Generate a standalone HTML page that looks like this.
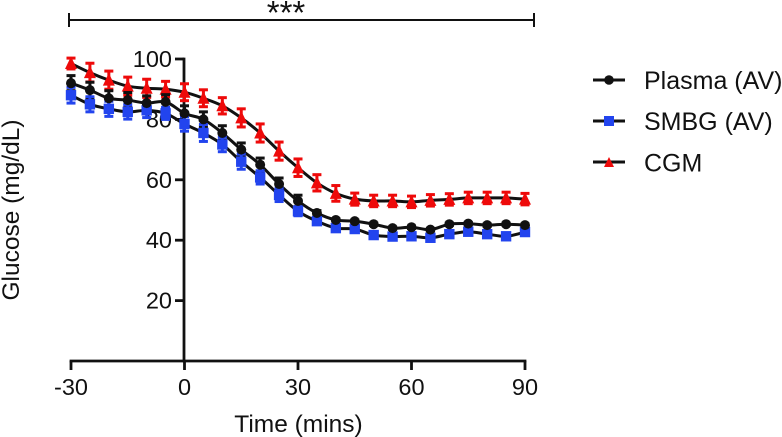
<!DOCTYPE html>
<html>
<head>
<meta charset="utf-8">
<style>
html,body{margin:0;padding:0;background:#fff;width:782px;height:437px;overflow:hidden}
svg{display:block}
text{font-family:"Liberation Sans",sans-serif;fill:#111}
</style>
</head>
<body>
<svg id="chart" width="782" height="437" viewBox="0 0 782 437" xmlns="http://www.w3.org/2000/svg">
  <g id="plot"></g>
  <g stroke="#111" stroke-width="2" fill="none">
    <line x1="69" y1="20" x2="534" y2="20"/>
    <line x1="69" y1="13" x2="69" y2="27"/>
    <line x1="534" y1="13" x2="534" y2="27"/>
  </g>
  <text x="286" y="24" font-size="33" text-anchor="middle">***</text>
  <text x="298.5" y="432" font-size="24.5" text-anchor="middle">Time (mins)</text>
  <text transform="translate(19,210) rotate(-90)" font-size="24.5" text-anchor="middle">Glucose (mg/dL)</text>
  <g>
    <g>
      <line x1="593" y1="80" x2="625" y2="80" stroke="#111" stroke-width="3"/>
      <circle cx="609" cy="80" r="4.8" fill="#111"/>
      <text x="644" y="89" font-size="25">Plasma (AV)</text>
    </g>
    <g>
      <line x1="593" y1="121" x2="625" y2="121" stroke="#111" stroke-width="3"/>
      <rect x="604" y="116" width="10" height="10" fill="#2244ee"/>
      <text x="644" y="130" font-size="25">SMBG (AV)</text>
    </g>
    <g>
      <line x1="593" y1="162" x2="625" y2="162" stroke="#111" stroke-width="3"/>
      <polygon points="609,157 614,167 604,167" fill="#ee0a0a"/>
      <text x="644" y="171.5" font-size="25">CGM</text>
    </g>
  </g>
</svg>
<script>
const times = [-30,-25,-20,-15,-10,-5,0,5,10,15,20,25,30,35,40,45,50,55,60,65,70,75,80,85,90];
const plasma = [92,89.7,87,86.4,85.4,85.8,82,80,75.5,70,65,58.6,53,49,46.7,46.3,45.3,44,44.3,43.5,45.3,45.5,45,45.3,45];
const plasmaErr = [2.5,2.6,2.5,2.5,2.4,2.4,2.5,2.5,2.4,2.2,2.2,2,1.9,0.8,0.4,0.4,0.4,0.4,0.4,0.4,0.4,0.4,0.4,0.4,0.4];
const smbg = [88,85,83.5,82.5,83,82,78.5,75.5,71.7,66,60.8,55,49.6,46.3,44,43.7,41.7,41.2,41.3,40.8,42,42.8,42,41.3,42.7];
const smbgErr = [2.6,2.5,2.5,2.4,2.4,2,2.4,2.8,2.4,2.5,2.2,2.2,1.5,0.8,0.4,0.4,0.4,0.4,0.4,0.4,0.4,0.4,0.4,0.4,0.4];
const cgm = [98.5,95.5,93,91,90.3,90,89,87,84.5,80.5,75.5,69.5,64,59,55.5,53.6,53,53,52.7,53.2,53.5,54,54,54,53.6];
const cgmErr = [1.8,3.1,3,3,3,2.6,2.8,2.8,2.7,3,3,3,2.9,2.7,2.6,2,1.9,1.9,1.9,1.9,1.9,1.9,1.9,1.9,1.9];
const xTicks = [-30,0,30,60,90];
const yTicks = [20,40,60,80,100];

const NS = 'http://www.w3.org/2000/svg';
const plot = document.getElementById('plot');
function xScale(v){ return 71 + (v + 30) * (525 - 71) / 120; }
function yScale(v){ return 361 - v * (361 - 59) / 100; }
function add(tag, attrs, parent){
  const el = document.createElementNS(NS, tag);
  for (const k in attrs) el.setAttribute(k, attrs[k]);
  (parent || plot).appendChild(el);
  return el;
}

// axes
yTicks.forEach(function(t){
  const tick = add('line', {x1:175, x2:184, y1:yScale(t), y2:yScale(t), stroke:'#111', 'stroke-width':2.8});
  
  
  const lab = add('text', {x:172, y:yScale(t)+8, 'font-size':23.5, 'text-anchor':'end'});
  lab.textContent = t;
  
  
});
const yAxis = add('line', {x1:184, x2:184, y1:yScale(100)-1.4, y2:yScale(0)+1.4, stroke:'#111', 'stroke-width':2.8});


const xAxis = add('line', {x1:xScale(-30)-1.4, x2:xScale(90)+1.4, y1:361, y2:361, stroke:'#111', 'stroke-width':2.8});


xTicks.forEach(function(t){
  const tick = add('line', {x1:xScale(t), x2:xScale(t), y1:361, y2:370, stroke:'#111', 'stroke-width':2.8});
  
  
  const lab = add('text', {x:xScale(t), y:395, 'font-size':23.5, 'text-anchor':'middle'});
  lab.textContent = t;
  
  
});

function curvePath(vals){
  const p = vals.map(function(v,i){ return [xScale(times[i]), yScale(v)]; });
  let d = 'M' + p[0][0] + ' ' + p[0][1];
  for (let i = 0; i < p.length - 1; i++){
    const a = p[Math.max(i-1,0)], b = p[i], c = p[i+1], e = p[Math.min(i+2,p.length-1)];
    d += ' C' + (b[0]+(c[0]-a[0])/6) + ' ' + (b[1]+(c[1]-a[1])/6) + ' ' +
         (c[0]-(e[0]-b[0])/6) + ' ' + (c[1]-(e[1]-b[1])/6) + ' ' + c[0] + ' ' + c[1];
  }
  return d;
}

function drawLine(vals, name){
  const line = add('path', {d:curvePath(vals), fill:'none', stroke:'#111', 'stroke-width':3});
  
  
}

function drawErrors(vals, errs, color, name){
  vals.forEach(function(v,i){
    const x = xScale(times[i]), hi = yScale(v+errs[i]), lo = yScale(v-errs[i]);
    const g = add('g', {stroke:color, 'stroke-width':3});
    
    
    add('line', {x1:x, x2:x, y1:hi, y2:lo}, g);
    add('line', {x1:x-4.5, x2:x+4.5, y1:hi, y2:hi}, g);
    add('line', {x1:x-4.5, x2:x+4.5, y1:lo, y2:lo}, g);
  });
}

function drawMarkers(vals, kind, color, name){
  vals.forEach(function(v,i){
    const x = xScale(times[i]), y = yScale(v);
    let m;
    if (kind === 'circle') m = add('circle', {cx:x, cy:y, r:5, fill:color});
    if (kind === 'square') m = add('rect', {x:x-5.2, y:y-5.2, width:10.4, height:10.4, fill:color});
    if (kind === 'triangle') m = add('polygon', {points:x+','+(y-7)+' '+(x+6)+','+(y+5.5)+' '+(x-6)+','+(y+5.5), fill:color});
    
    
  });
}

drawLine(cgm, 'cgm-line');
drawLine(smbg, 'smbg-line');
drawLine(plasma, 'plasma-line');
drawErrors(cgm, cgmErr, '#ee0a0a', 'cgm-error-bar');
drawMarkers(cgm, 'triangle', '#ee0a0a', 'cgm-point');
drawErrors(plasma, plasmaErr, '#111', 'plasma-error-bar');
drawErrors(smbg, smbgErr, '#2244ee', 'smbg-error-bar');
drawMarkers(smbg, 'square', '#2244ee', 'smbg-point');
drawMarkers(plasma, 'circle', '#111', 'plasma-point');
</script>
</body>
</html>
